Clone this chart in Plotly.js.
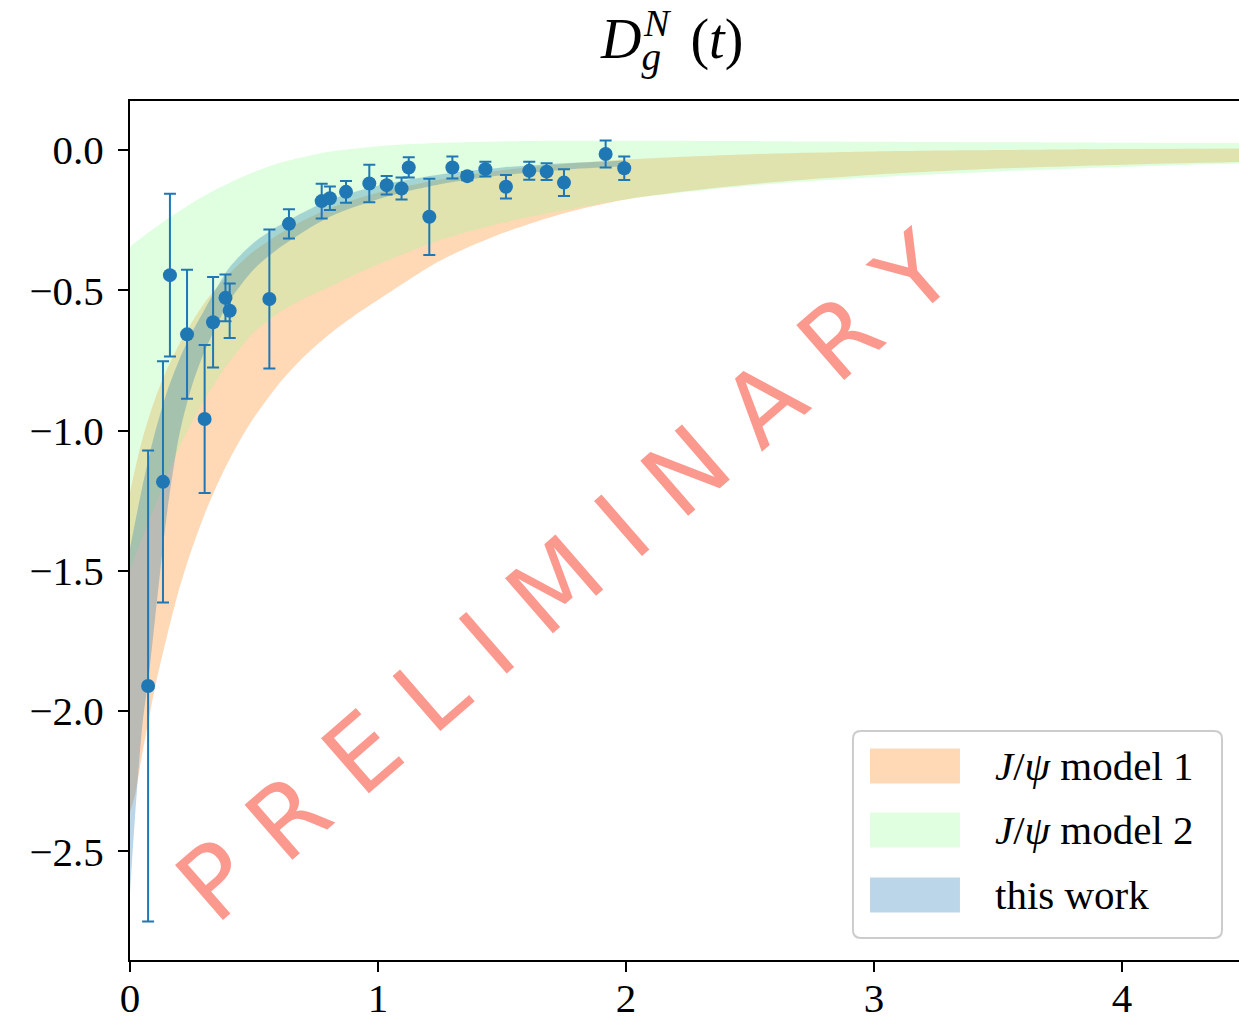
<!DOCTYPE html>
<html>
<head>
<meta charset="utf-8">
<script src="https://cdn.plot.ly/plotly-3.0.1.min.js"></script>
<style>html,body{margin:0;padding:0;background:#fff;overflow:hidden;}</style>
</head>
<body>
<div id="chart" style="width:1239px;height:1020px;"></div>
<script>
// ---- data ----
const tBand = [0, 0.02, 0.05, 0.1, 0.15, 0.2, 0.25, 0.3, 0.35, 0.4, 0.45, 0.5, 0.6, 0.7, 0.8, 0.9, 1.0, 1.25, 1.5, 1.75, 2.0, 2.5, 3.0, 3.5, 4.0, 4.5];
const model1Upper = [-1.22, -1.14, -1.03, -0.89, -0.78, -0.69, -0.613, -0.545, -0.49, -0.44, -0.398, -0.36, -0.30, -0.25, -0.21, -0.178, -0.152, -0.105, -0.072, -0.05, -0.034, -0.015, -0.005, 0.0, 0.004, 0.006];
const model1Lower = [-2.36, -2.30, -2.15, -1.92, -1.73, -1.56, -1.421, -1.30, -1.196, -1.105, -1.025, -0.954, -0.834, -0.738, -0.659, -0.593, -0.535, -0.395, -0.297, -0.225, -0.176, -0.122, -0.088, -0.066, -0.052, -0.042];
const model2Upper = [-0.345, -0.33, -0.31, -0.278, -0.246, -0.217, -0.189, -0.163, -0.139, -0.117, -0.097, -0.078, -0.047, -0.025, -0.006, 0.005, 0.014, 0.026, 0.031, 0.033, 0.033, 0.032, 0.030, 0.028, 0.026, 0.025];
const model2Lower = [-1.50, -1.45, -1.38, -1.27, -1.16, -1.06, -0.97, -0.89, -0.82, -0.755, -0.70, -0.65, -0.58, -0.53, -0.49, -0.447, -0.408, -0.321, -0.26, -0.215, -0.175, -0.127, -0.097, -0.076, -0.06, -0.047];

const tWork = [0, 0.02, 0.05, 0.075, 0.1, 0.15, 0.2, 0.25, 0.3, 0.4, 0.5, 0.6, 0.8, 1.0, 1.25, 1.5, 1.75, 2.0];
const workUpper = [-1.42, -1.33, -1.20, -1.10, -1.01, -0.86, -0.745, -0.65, -0.57, -0.42, -0.33, -0.27, -0.18, -0.127, -0.087, -0.062, -0.047, -0.037];
const workLower = [-2.65, -2.38, -2.05, -1.88, -1.68, -1.29, -1.01, -0.84, -0.72, -0.54, -0.425, -0.35, -0.24, -0.175, -0.122, -0.09, -0.07, -0.058];

const tData = [0.073, 0.133, 0.161, 0.230, 0.301, 0.335, 0.385, 0.402, 0.562, 0.641, 0.773, 0.806, 0.871, 0.965, 1.035, 1.095, 1.124, 1.207, 1.300, 1.360, 1.433, 1.516, 1.610, 1.680, 1.750, 1.918, 1.993];
const dData = [-1.911, -1.183, -0.446, -0.657, -0.959, -0.614, -0.527, -0.573, -0.531, -0.263, -0.182, -0.172, -0.149, -0.119, -0.125, -0.137, -0.062, -0.238, -0.062, -0.093, -0.068, -0.131, -0.074, -0.077, -0.116, -0.014, -0.065];
const dErr  = [0.84, 0.43, 0.29, 0.23, 0.264, 0.161, 0.083, 0.097, 0.248, 0.052, 0.062, 0.042, 0.039, 0.067, 0.033, 0.039, 0.036, 0.136, 0.039, 0.015, 0.026, 0.042, 0.032, 0.03, 0.048, 0.048, 0.042];

const xTicks = [0, 1, 2, 3, 4];
const yTicks = [0, -0.5, -1.0, -1.5, -2.0, -2.5];
const legendLabels = ['<i>J</i>/<i>ψ</i> model 1', '<i>J</i>/<i>ψ</i> model 2', 'this work'];
const titleMain = '<i>D</i><sub><i>g</i>   </sub>(<i>t</i>)';
const titleSup = '<i>N</i>';
const watermark = 'P R E L I M I N A R Y';

// ---- styles ----
const cOrange = 'rgba(255,127,14,0.3)';
const cGreen = 'rgba(152,251,152,0.3)';
const cBlue = 'rgba(31,119,180,0.3)';
const cPoint = '#1f77b4';
const serif = 'Liberation Serif, Times New Roman, serif';

function band(x, lo, hi, color, name) {
  return [
    {x: x, y: lo, mode: 'lines', line: {width: 0, shape: 'spline', smoothing: 0.8}, hoverinfo: 'skip', showlegend: false},
    {x: x, y: hi, mode: 'lines', line: {width: 0, shape: 'spline', smoothing: 0.8}, fill: 'tonexty', fillcolor: color, name: name, hoverinfo: 'skip', showlegend: false}
  ];
}

const traces = [].concat(
  band(tBand, model1Lower, model1Upper, cOrange, 'J/ψ model 1'),
  band(tBand, model2Lower, model2Upper, cGreen, 'J/ψ model 2'),
  band(tWork, workLower, workUpper, cBlue, 'this work'),
  [{
    x: tData, y: dData, mode: 'markers', type: 'scatter', showlegend: false,
    marker: {color: cPoint, size: 14},
    error_y: {type: 'data', array: dErr, symmetric: true, color: cPoint, thickness: 2, width: 6}
  }]
);

// legend geometry (paper coords)
const L = {x0: 0.6519, x1: 0.9847, y0: 0.0256, y1: 0.2666, rx: 0.0072, ry: 0.0093};
const boxPath = `M ${L.x0 + L.rx},${L.y1} L ${L.x1 - L.rx},${L.y1} Q ${L.x1},${L.y1} ${L.x1},${L.y1 - L.ry} ` +
  `L ${L.x1},${L.y0 + L.ry} Q ${L.x1},${L.y0} ${L.x1 - L.rx},${L.y0} L ${L.x0 + L.rx},${L.y0} ` +
  `Q ${L.x0},${L.y0} ${L.x0},${L.y0 + L.ry} L ${L.x0},${L.y1 - L.ry} Q ${L.x0},${L.y1} ${L.x0 + L.rx},${L.y1} Z`;
const rowY = [0.2258, 0.1513, 0.0757];
const swH = 0.0204;
const swatchColors = [cOrange, cGreen, cBlue];

const shapes = [{type: 'path', xref: 'paper', yref: 'paper', path: boxPath, fillcolor: 'rgba(255,255,255,0.8)', line: {color: '#cccccc', width: 2}, layer: 'above'}];
rowY.forEach((y, i) => shapes.push({type: 'rect', xref: 'paper', yref: 'paper', x0: 0.6673, x1: 0.7484, y0: y - swH, y1: y + swH, fillcolor: swatchColors[i], line: {width: 0}, layer: 'above'}));

const annotations = [
  {text: watermark, xref: 'paper', yref: 'paper', x: 0.393, y: 0.446, showarrow: false, textangle: -41,
   font: {family: 'DejaVu Sans, sans-serif', size: 100, color: 'rgba(250,128,114,0.8)'}},
  {text: titleSup, xref: 'paper', yref: 'paper', x: 0.4608, y: 1.0908, xanchor: 'left', yanchor: 'middle', showarrow: false,
   font: {family: serif, size: 38, color: 'black'}}
];
legendLabels.forEach((t, i) => annotations.push({text: t, xref: 'paper', yref: 'paper', x: 0.7782, y: rowY[i], xanchor: 'left', yanchor: 'middle', showarrow: false,
  font: {family: serif, size: 41, color: 'black'}}));

const axisCommon = {
  ticks: 'outside', ticklen: 10, tickwidth: 2, tickcolor: 'black',
  showline: true, linecolor: 'black', linewidth: 2, showgrid: false, zeroline: false,
  tickfont: {family: serif, size: 41, color: 'black'}
};

const layout = {
  width: 1239, height: 1020,
  margin: {l: 130, r: 0, t: 101, b: 60, pad: 0},
  paper_bgcolor: 'white', plot_bgcolor: 'white',
  showlegend: false,
  title: {text: titleMain, font: {family: serif, size: 56, color: 'black'}, xref: 'container', x: 601 / 1239, xanchor: 'left', yref: 'container', y: 0.962, yanchor: 'middle'},
  xaxis: Object.assign({}, axisCommon, {range: [0, 4.472], tickvals: xTicks, ticktext: xTicks.map(String), mirror: true, ticklabelstandoff: -9}),
  yaxis: Object.assign({}, axisCommon, {range: [-2.888, 0.175], tickvals: yTicks, tickformat: '.1f', ticklabelstandoff: 6}),
  shapes: shapes,
  annotations: annotations
};

Plotly.newPlot('chart', traces, layout, {displayModeBar: false, staticPlot: true});
</script>
</body>
</html>
